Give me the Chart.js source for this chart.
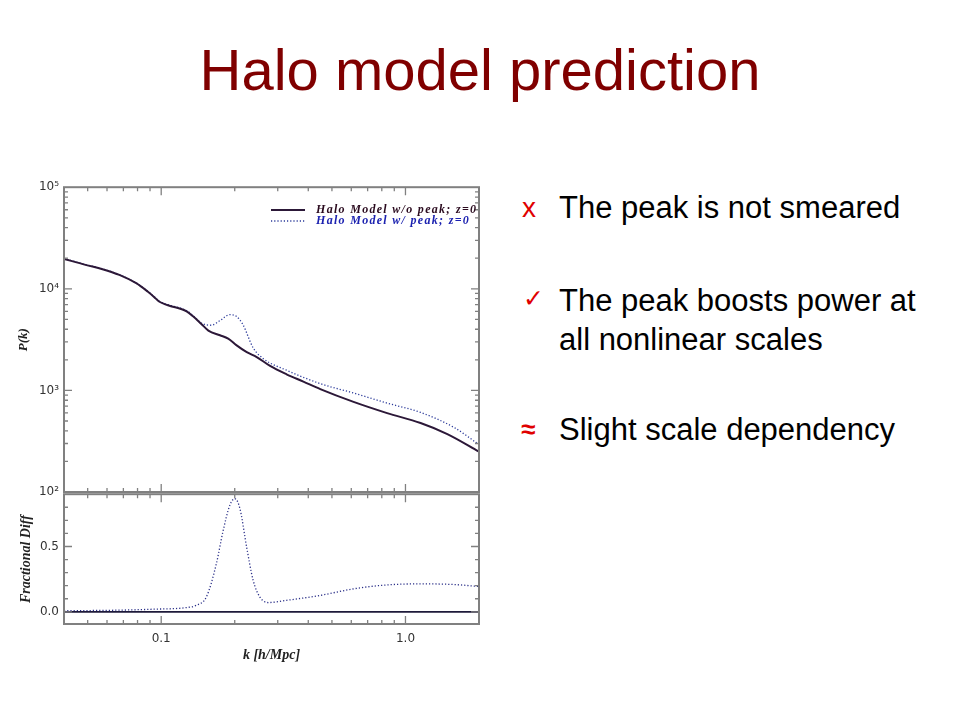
<!DOCTYPE html>
<html lang="en">
<head>
    <meta charset="UTF-8">
    <title>Halo model prediction</title>
    <script src="https://cdn.jsdelivr.net/npm/chart.js"></script>
    <style>
        body { margin: 0; background: #fff; }
        #page { position: relative; width: 960px; height: 720px; overflow: hidden; font-family: 'Liberation Sans', Arial, sans-serif; }
        #title { position: absolute; left: 0; top: 41px; width: 960px; text-align: center; font-size: 58px; line-height: 58px; color: #800000; }
        .txt { position: absolute; left: 559px; font-size: 31px; line-height: 31px; color: #000; white-space: nowrap; }
        .mark { position: absolute; color: #e00000; white-space: nowrap; }
        canvas { position: absolute; left: 0; }
    </style>
</head>
<body>
<div id="page">
    <div id="title">Halo model prediction</div>

    <div class="mark" style="left:522px; top:192px; font-size:28px; line-height:31px;">x</div>
    <div class="txt" style="top:192px;">The peak is not smeared</div>

    <div class="mark" style="left:523px; top:286px; font-size:25px; line-height:25px; font-family:'DejaVu Sans';">✓</div>
    <div class="txt" style="top:285px;">The peak boosts power at</div>
    <div class="txt" style="top:324px;">all nonlinear scales</div>

    <div class="mark" style="left:521px; top:414px; font-size:26px; line-height:31px; font-weight:bold;">≈</div>
    <div class="txt" style="top:414px;">Slight scale dependency</div>

    <canvas id="power" width="490" height="330" style="top:175px;"></canvas>
    <canvas id="diff" width="490" height="190" style="top:482px;"></canvas>
</div>
<script>
    // P(k) without the peak (solid)
    const kNoPeak = [0.040, 0.049, 0.0575, 0.0674, 0.079, 0.088, 0.0937, 0.098, 0.1033, 0.108, 0.127, 0.135, 0.146, 0.156, 0.174, 0.188, 0.203, 0.224, 0.246, 0.279, 0.326, 0.382, 0.448, 0.613, 0.841, 1.153, 1.484, 2.0];
    const pNoPeak = [19700, 17200, 15600, 13700, 11350, 9400, 8280, 7500, 7070, 6820, 6000, 5360, 4510, 3880, 3490, 3240, 2790, 2380, 2130, 1740, 1440, 1220, 1030, 771, 598, 478, 372, 250];

    // P(k) with the peak (dotted)
    const kPeak = [0.040, 0.049, 0.0575, 0.0674, 0.079, 0.088, 0.0937, 0.098, 0.1033, 0.108, 0.127, 0.135, 0.146, 0.160, 0.174, 0.191, 0.203, 0.216, 0.238, 0.262, 0.326, 0.448, 0.613, 0.841, 1.153, 1.58, 2.0];
    const pPeak = [19900, 17300, 15700, 13800, 11400, 9450, 8330, 7560, 7130, 6900, 6100, 5450, 4610, 4380, 4860, 5570, 5360, 4450, 2620, 2050, 1580, 1166, 942, 750, 607, 432, 293];

    // fractional difference (lower panel)
    const kDiff = [0.040, 0.0674, 0.092, 0.127, 0.139, 0.153, 0.168, 0.179, 0.191, 0.200, 0.210, 0.224, 0.238, 0.2535, 0.274, 0.326, 0.448, 0.613, 0.841, 1.153, 1.58, 2.0];
    const fracDiff = [0.008, 0.013, 0.02, 0.033, 0.05, 0.113, 0.364, 0.615, 0.816, 0.866, 0.79, 0.49, 0.24, 0.113, 0.071, 0.088, 0.126, 0.176, 0.206, 0.214, 0.209, 0.194];
    const kZero = [0.04, 2.0];
    const zeroDiff = [0, 0];

    // tick values
    const kMajor = [0.1, 1];
    const kMinor = [0.04, 0.05, 0.06, 0.07, 0.08, 0.09, 0.2, 0.3, 0.4, 0.5, 0.6, 0.7, 0.8, 0.9, 2];
    const pMajor = [100, 1000, 10000, 100000];
    const pMinor = [200, 300, 400, 500, 600, 700, 800, 900, 2000, 3000, 4000, 5000, 6000, 7000, 8000, 9000,
                    20000, 30000, 40000, 50000, 60000, 70000, 80000, 90000];
    const pLabels = { 100: '10²', 1000: '10³', 10000: '10⁴', 100000: '10⁵' };
    const dMajor = [0, 0.5];
    const dMinor = [0.1, 0.2, 0.3, 0.4, 0.6, 0.7, 0.8];

    const legendItems = ['Halo Model w/o peak; z=0', 'Halo Model w/ peak; z=0'];

    const solidColor = '#2c1838';
    const dotColor = '#2b3a9a';
    const frameColor = '#808080';

    function pts(xs, ys) {
        return xs.map((x, i) => ({ x: x, y: ys[i] }));
    }

    // frame and inward IDL-style tick marks
    const frameTicks = {
        id: 'frameTicks',
        afterDatasetsDraw(chart, args, opts) {
            const { ctx, chartArea: a, scales } = chart;
            ctx.save();
            ctx.strokeStyle = frameColor;
            ctx.lineWidth = 1.3;
            ctx.beginPath();
            const xt = [[opts.xMajor, 8], [opts.xMinor, 4]];
            xt.forEach(([vals, len]) => vals.forEach(v => {
                const px = scales.x.getPixelForValue(v);
                if (px < a.left + 1 || px > a.right - 1) return;
                ctx.moveTo(px, a.bottom); ctx.lineTo(px, a.bottom - len);
                ctx.moveTo(px, a.top); ctx.lineTo(px, a.top + len);
            }));
            const yt = [[opts.yMajor, 8], [opts.yMinor, 4]];
            yt.forEach(([vals, len]) => vals.forEach(v => {
                const py = scales.y.getPixelForValue(v);
                if (py < a.top + 1 || py > a.bottom - 1) return;
                ctx.moveTo(a.left, py); ctx.lineTo(a.left + len, py);
                ctx.moveTo(a.right, py); ctx.lineTo(a.right - len, py);
            }));
            ctx.stroke();
            ctx.lineWidth = 2;
            ctx.strokeRect(a.left, a.top, a.right - a.left, a.bottom - a.top);

            if (opts.legend) {
                ctx.font = 'italic bold 12px "Liberation Serif"';
                ctx.letterSpacing = '1.3px';
                ctx.textBaseline = 'middle';
                ctx.textAlign = 'left';
                const rows = [
                    { y: 35, color: solidColor, text: '#2a0a1e', dash: [], w: 1.8, max: 162 },
                    { y: 46, color: dotColor, text: '#1c22b0', dash: [1.2, 2], w: 1.3, max: 156 }
                ];
                rows.forEach((r, i) => {
                    ctx.beginPath();
                    ctx.setLineDash(r.dash);
                    ctx.strokeStyle = r.color;
                    ctx.lineWidth = r.w;
                    ctx.moveTo(271, r.y); ctx.lineTo(305, r.y);
                    ctx.stroke();
                    ctx.fillStyle = r.text;
                    ctx.fillText(legendItems[i], 316, r.y, r.max);
                });
            }
            ctx.restore();
        }
    };

    const tickFont = { family: 'DejaVu Sans', size: 12 };
    const titleFont = { family: 'Liberation Serif', style: 'italic', weight: 'bold', size: 13 };

    new Chart(document.getElementById('power'), {
        type: 'line',
        data: {
            datasets: [
                {
                    data: pts(kNoPeak, pNoPeak),
                    borderColor: solidColor,
                    borderWidth: 2,
                    pointRadius: 0,
                    cubicInterpolationMode: 'monotone'
                },
                {
                    data: pts(kPeak, pPeak),
                    borderColor: dotColor,
                    borderWidth: 1.3,
                    borderDash: [1.2, 2],
                    pointRadius: 0,
                    cubicInterpolationMode: 'monotone'
                }
            ]
        },
        options: {
            responsive: false,
            animation: false,
            layout: { padding: { top: 10, right: 11, bottom: 13, left: 0 } },
            plugins: {
                legend: { display: false },
                tooltip: { enabled: false },
                frameTicks: { xMajor: kMajor, xMinor: kMinor, yMajor: pMajor, yMinor: pMinor, legend: true }
            },
            scales: {
                x: { type: 'logarithmic', min: 0.04, max: 2, display: false },
                y: {
                    type: 'logarithmic', min: 100, max: 100000,
                    afterFit(s) { s.width = 64; },
                    grid: { display: false, drawTicks: false },
                    border: { display: false },
                    ticks: {
                        autoSkip: false, padding: 5, color: '#333', font: tickFont,
                        callback: v => pLabels[v] || ''
                    },
                    title: { display: true, text: 'P(k)', color: '#222', font: titleFont, padding: { top: 16, bottom: 0 } }
                }
            }
        },
        plugins: [frameTicks]
    });

    new Chart(document.getElementById('diff'), {
        type: 'line',
        data: {
            datasets: [
                {
                    data: pts(kZero, zeroDiff),
                    borderColor: '#1e1a3a',
                    borderWidth: 1.6,
                    pointRadius: 0
                },
                {
                    data: pts(kDiff, fracDiff),
                    borderColor: '#2a2f88',
                    borderWidth: 1.3,
                    borderDash: [1.2, 2],
                    pointRadius: 0,
                    cubicInterpolationMode: 'monotone'
                }
            ]
        },
        options: {
            responsive: false,
            animation: false,
            layout: { padding: { top: 10, right: 11, bottom: 0, left: 0 } },
            plugins: {
                legend: { display: false },
                tooltip: { enabled: false },
                frameTicks: { xMajor: kMajor, xMinor: kMinor, yMajor: dMajor, yMinor: dMinor }
            },
            scales: {
                x: {
                    type: 'logarithmic', min: 0.04, max: 2,
                    afterFit(s) { s.height = 48; },
                    grid: { display: false, drawTicks: false },
                    border: { display: false },
                    ticks: {
                        autoSkip: false, maxRotation: 0, padding: 8, color: '#333', font: tickFont,
                        callback: v => Math.abs(v - 0.1) < 1e-9 ? '0.1' : (Math.abs(v - 1) < 1e-9 ? '1.0' : '')
                    },
                    title: { display: true, text: 'k [h/Mpc]', color: '#222', font: { ...titleFont, size: 14 }, padding: { top: 0, bottom: 8 } }
                },
                y: {
                    min: -0.093, max: 0.9,
                    afterFit(s) { s.width = 64; },
                    grid: { display: false, drawTicks: false },
                    border: { display: false },
                    ticks: {
                        stepSize: 0.5, includeBounds: false, autoSkip: false, padding: 5, color: '#333', font: tickFont,
                        callback: v => Math.abs(v) < 1e-9 ? '0.0' : (Math.abs(v - 0.5) < 1e-9 ? '0.5' : '')
                    },
                    title: { display: true, text: 'Fractional Diff', color: '#222', font: { ...titleFont, size: 14 }, padding: { top: 18, bottom: 0 } }
                }
            }
        },
        plugins: [frameTicks]
    });
</script>
</body>
</html>
